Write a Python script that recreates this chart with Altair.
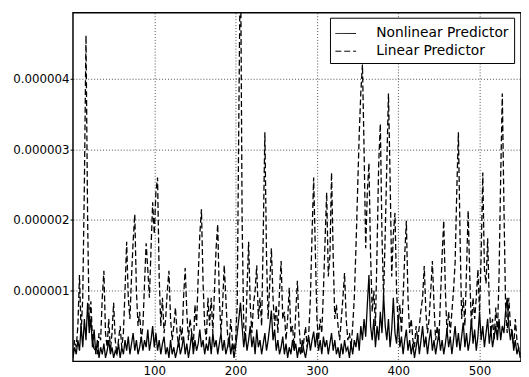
import altair as alt
import pandas as pd

# x positions (step 2)
x_vals = list(range(0, 552, 2))

# Linear predictor (units of 1e-6)
linear = [
    0.1, 0.3, 0.2, 0.5, 1.22, 0.4, 0.9, 2.5, 4.61, 2.0,      # 0-18
    0.5, 0.85, 0.3, 0.15, 0.2, 0.1, 0.4, 0.3, 0.9, 1.28,     # 20-38
    0.4, 0.2, 0.6, 0.15, 0.4, 0.83, 0.3, 0.1, 0.3, 0.5,      # 40-58
    0.2, 0.4, 1.0, 1.69, 0.9, 0.6, 1.2, 1.7, 2.08, 1.0,      # 60-78
    0.5, 0.7, 0.3, 0.5, 1.1, 1.67, 1.3, 0.9, 1.6, 2.25,      # 80-98
    1.8, 2.4, 2.6, 1.2, 0.5, 0.9, 0.4, 0.6, 1.0, 1.28,       # 100-118
    0.6, 0.3, 0.5, 0.76, 0.4, 0.2, 0.5, 0.3, 0.9, 1.32,      # 120-138
    0.7, 0.3, 0.6, 0.4, 0.2, 0.8, 0.5, 1.2, 1.8, 2.15,       # 140-158
    1.1, 0.5, 0.3, 0.9, 0.5, 0.9, 0.4, 1.0, 1.6, 1.94,       # 160-178
    0.9, 0.4, 0.8, 1.36, 0.9, 0.4, 0.2, 0.6, 0.3, 0.15,      # 180-198
    0.3, 0.8, 3.5, 6.0, 2.0, 0.5, 0.3, 1.0, 1.69, 0.8,       # 200-218
    0.4, 0.8, 1.0, 1.36, 0.6, 0.9, 0.5, 1.8, 3.24, 1.5,      # 220-238
    0.6, 1.1, 1.6, 0.9, 0.5, 0.8, 0.4, 1.0, 1.42, 0.6,       # 240-258
    0.7, 0.3, 0.6, 1.04, 0.4, 0.5, 0.2, 0.7, 1.14, 0.5,      # 260-278
    0.2, 0.1, 0.3, 0.49, 0.2, 0.4, 0.9, 1.8, 2.6, 1.6,       # 280-298
    0.6, 0.3, 0.6, 0.4, 1.0, 1.7, 2.39, 1.2, 1.5, 2.67,      # 300-318
    1.5, 0.6, 0.8, 0.5, 0.3, 0.6, 0.9, 1.25, 0.6, 0.3,       # 320-338
    0.4, 0.2, 0.5, 0.9, 1.6, 2.4, 3.2, 3.8, 4.2, 3.0,        # 340-358
    1.6, 2.4, 2.8, 1.5, 0.7, 1.0, 0.5, 1.6, 2.8, 3.36,       # 360-378
    1.8, 0.9, 1.8, 2.8, 3.79, 2.6, 1.2, 1.8, 2.1, 1.0,       # 380-398
    0.5, 0.8, 0.4, 0.9, 1.5, 1.99, 0.9, 0.4, 0.6, 0.3,       # 400-418
    0.2, 0.5, 0.3, 0.5, 0.73, 0.9, 1.35, 0.7, 0.4, 0.6,      # 420-438
    1.0, 1.42, 0.8, 0.3, 0.5, 0.3, 0.9, 1.5, 1.99, 1.0,      # 440-458
    0.4, 0.7, 0.4, 0.7, 1.0, 1.4, 2.4, 3.24, 1.8, 0.6,       # 460-478
    0.9, 0.5, 1.3, 2.13, 1.2, 0.5, 0.9, 0.6, 0.9, 1.3,       # 480-498
    0.7, 1.5, 2.67, 1.3, 1.1, 1.74, 0.8, 0.4, 0.6, 0.3,      # 500-518
    0.76, 0.4, 1.2, 2.6, 3.79, 2.2, 0.8, 0.4, 0.9, 0.5,      # 520-538
    0.4, 0.2, 0.6, 0.3, 0.2, 0.1,                            # 540-550
]

# Nonlinear predictor (units of 1e-6)
nonlinear = [
    0.05, 0.2, 0.1, 0.3, 0.15, 0.5, 0.2, 0.6, 0.3, 0.83,     # 0-18
    0.4, 0.6, 0.2, 0.45, 0.1, 0.3, 0.05, 0.2, 0.1, 0.25,     # 20-38
    0.05, 0.15, 0.3, 0.1, 0.2, 0.05, 0.15, 0.1, 0.25, 0.05,  # 40-58
    0.2, 0.1, 0.3, 0.15, 0.35, 0.1, 0.25, 0.4, 0.15, 0.3,    # 60-78
    0.1, 0.2, 0.35, 0.15, 0.3, 0.2, 0.45, 0.15, 0.3, 0.5,    # 80-98
    0.2, 0.4, 0.15, 0.3, 0.1, 0.25, 0.35, 0.1, 0.2, 0.05,    # 100-118
    0.3, 0.1, 0.2, 0.05, 0.15, 0.3, 0.1, 0.2, 0.35, 0.1,     # 120-138
    0.25, 0.05, 0.2, 0.4, 0.1, 0.3, 0.15, 0.25, 0.45, 0.2,   # 140-158
    0.3, 0.1, 0.25, 0.15, 0.35, 0.1, 0.4, 0.2, 0.3, 0.1,     # 160-178
    0.25, 0.4, 0.15, 0.3, 0.1, 0.2, 0.35, 0.1, 0.25, 0.05,   # 180-198
    0.2, 0.4, 0.6, 0.83, 0.5, 0.2, 0.4, 0.15, 0.3, 0.5,      # 200-218
    0.2, 0.35, 0.1, 0.45, 0.2, 0.3, 0.1, 0.25, 0.4, 0.15,    # 220-238
    0.3, 0.5, 0.72, 0.3, 0.45, 0.15, 0.3, 0.1, 0.2, 0.35,    # 240-258
    0.1, 0.25, 0.05, 0.2, 0.1, 0.3, 0.15, 0.25, 0.05, 0.2,   # 260-278
    0.1, 0.3, 0.15, 0.05, 0.2, 0.35, 0.15, 0.3, 0.42, 0.2,   # 280-298
    0.4, 0.15, 0.3, 0.1, 0.35, 0.2, 0.3, 0.1, 0.25, 0.4,     # 300-318
    0.15, 0.3, 0.1, 0.2, 0.05, 0.25, 0.1, 0.3, 0.15, 0.2,    # 320-338
    0.05, 0.25, 0.1, 0.3, 0.2, 0.4, 0.15, 0.5, 0.3, 0.6,     # 340-358
    0.35, 0.8, 1.22, 0.5, 0.3, 0.6, 0.2, 0.5, 0.3, 0.7,      # 360-378
    0.4, 0.94, 0.5, 0.3, 0.6, 0.2, 0.45, 0.9, 0.4, 0.25,     # 380-398
    0.6, 0.2, 0.35, 0.1, 0.3, 0.45, 0.15, 0.3, 0.1, 0.25,    # 400-418
    0.05, 0.2, 0.35, 0.1, 0.3, 0.5, 0.2, 0.35, 0.1, 0.3,     # 420-438
    0.45, 0.15, 0.3, 0.1, 0.25, 0.4, 0.15, 0.3, 0.1, 0.25,   # 440-458
    0.45, 0.2, 0.35, 0.1, 0.3, 0.5, 0.2, 0.4, 0.15, 0.35,    # 460-478
    0.55, 0.2, 0.4, 0.15, 0.3, 0.6, 0.25, 0.45, 0.15, 0.35,  # 480-498
    0.7, 0.3, 0.5, 0.2, 0.4, 0.6, 0.25, 0.45, 0.2, 0.35,     # 500-518
    0.5, 0.3, 0.6, 0.3, 0.5, 0.4, 0.7, 0.9, 0.5, 0.3,        # 520-538
    0.45, 0.15, 0.3, 0.1, 0.2, 0.05,                         # 540-550
]

series_names = ["Nonlinear Predictor", "Linear Predictor"]
y_ticks = [0.000001, 0.000002, 0.000003, 0.000004]
x_ticks = [100, 200, 300, 400, 500]

rows = []
for xv, v in zip(x_vals, nonlinear):
    rows.append({"x": xv, "y": v * 1e-6, "series": series_names[0]})
for xv, v in zip(x_vals, linear):
    rows.append({"x": xv, "y": v * 1e-6, "series": series_names[1]})
df = pd.DataFrame(rows)

FONT = "DejaVu Sans"

chart = alt.Chart(df).mark_line(clip=True, color="black", strokeWidth=1.3).encode(
    x=alt.X("x:Q", scale=alt.Scale(domain=[0, 551], nice=False, zero=False),
            axis=alt.Axis(values=x_ticks, title=None, grid=True, ticks=False,
                          labelPadding=4, domain=False)),
    y=alt.Y("y:Q", scale=alt.Scale(domain=[0, 0.00000493], nice=False),
            axis=alt.Axis(values=y_ticks, format=".6f", title=None, grid=True,
                          tickSize=3, labelPadding=1, domain=False)),
    strokeDash=alt.StrokeDash(
        "series:N",
        scale=alt.Scale(domain=series_names, range=[[1, 0], [6, 3]]),
        legend=alt.Legend(
            title=None, orient="none", legendX=261, legendY=5,
            symbolType="stroke", symbolSize=441, symbolStrokeWidth=1,
            symbolStrokeColor="black", labelFontSize=14, labelFont=FONT,
            labelColor="black", labelOffset=20, rowPadding=0, padding=5,
            strokeColor="black", fillColor="white",
        ),
    ),
    detail="series:N",
).properties(
    width=455, height=354,
    background="white",
    autosize=alt.AutoSizeParams(type="none"),
    padding={"left": 66, "top": 2, "right": 0, "bottom": 13},
).configure_view(
    stroke="black", strokeWidth=1.5
).configure_axis(
    labelFont=FONT, labelFontSize=12, labelColor="black",
    tickColor="black", gridColor="black", gridDash=[1, 2],
    gridOpacity=0.7, gridWidth=1,
)

chart.save("out.html", embed_options={"renderer": "svg", "actions": False})
